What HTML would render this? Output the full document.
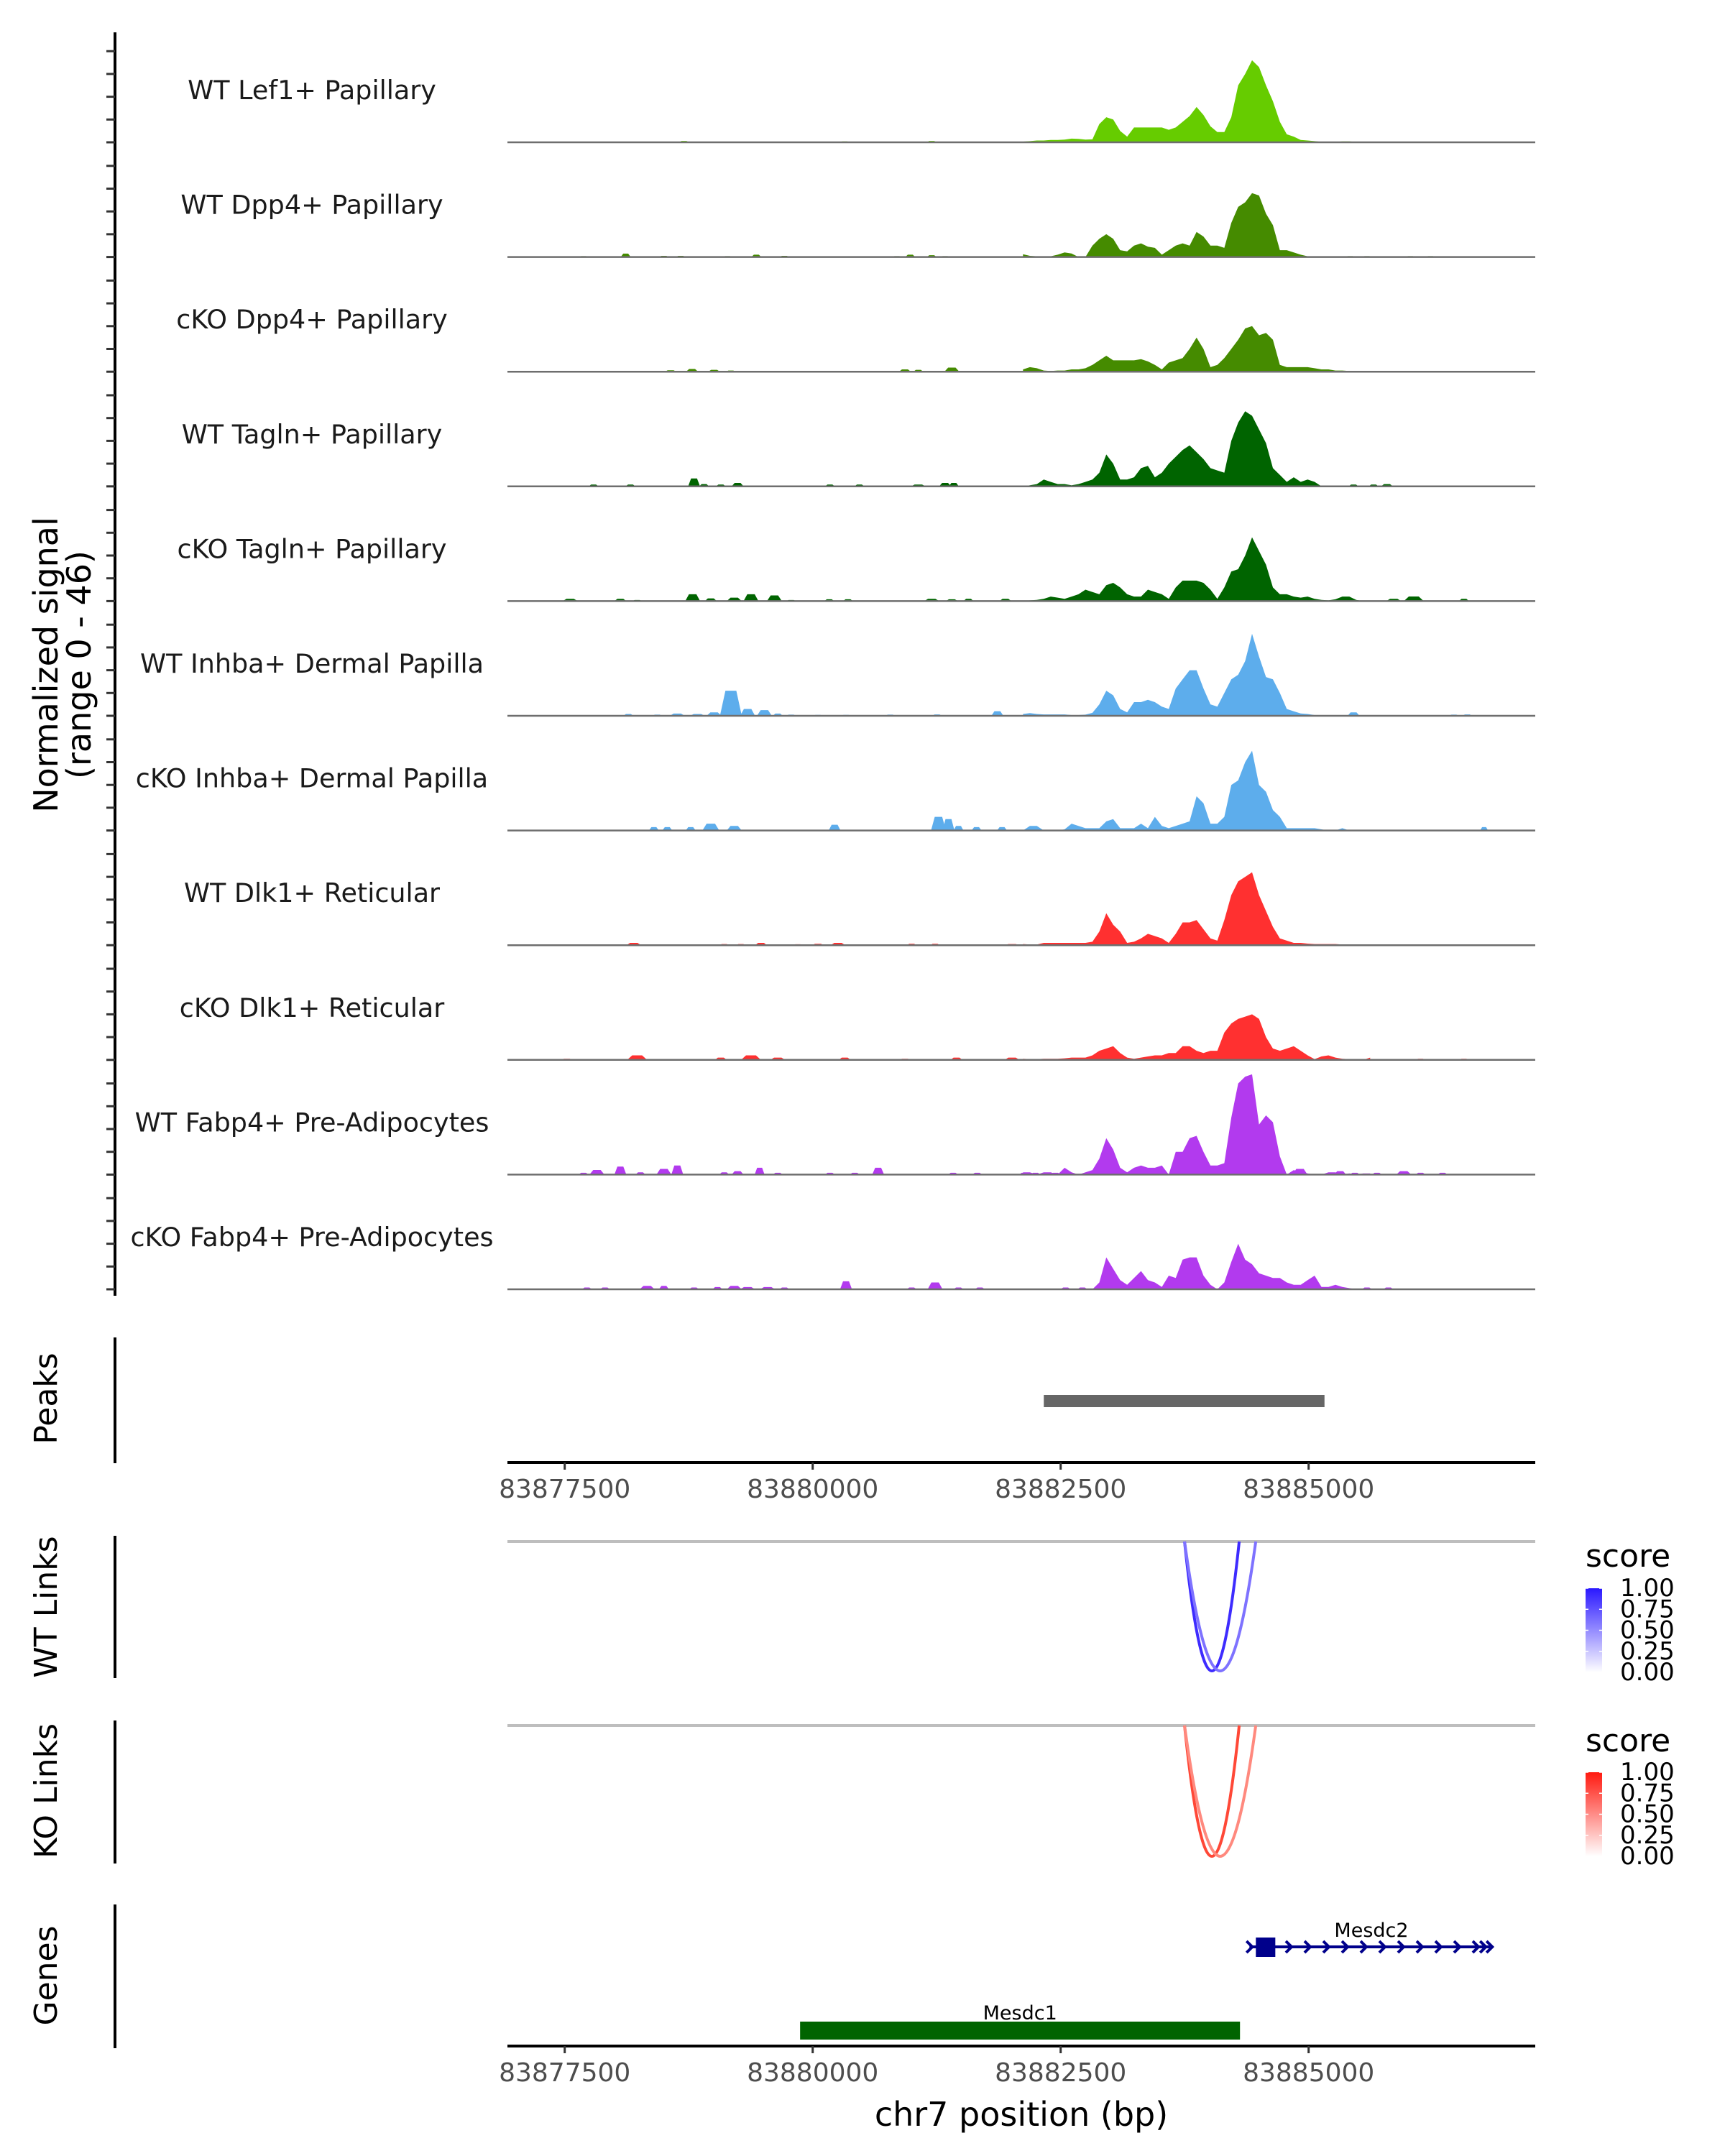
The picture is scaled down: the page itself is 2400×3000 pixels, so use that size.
<!DOCTYPE html>
<html><head><meta charset="utf-8"><style>
html,body{margin:0;padding:0;background:#fff;}
svg{display:block;font-family:"DejaVu Sans","Liberation Sans",sans-serif;}
</style></head><body>
<svg id="chart" width="2400" height="3000" viewBox="0 0 2400 3000" xmlns="http://www.w3.org/2000/svg">
<g id="tracks"></g>
<g id="annot"></g>
</svg>
<script>
// ---------- data ----------
const trackNames = ["WT Lef1+ Papillary","WT Dpp4+ Papillary","cKO Dpp4+ Papillary","WT Tagln+ Papillary","cKO Tagln+ Papillary","WT Inhba+ Dermal Papilla","cKO Inhba+ Dermal Papilla","WT Dlk1+ Reticular","cKO Dlk1+ Reticular","WT Fabp4+ Pre-Adipocytes","cKO Fabp4+ Pre-Adipocytes"];
const trackColors = ["#66CC00","#458B00","#458B00","#006400","#006400","#5DADEC","#5DADEC","#FF3030","#FF3030","#B23AEE","#B23AEE"];
const gridStart = 83882120;
const gridStep = 70;
const lef1Wt = [0.3,0.5,0.8,0.8,1,1,1.2,1.6,1.5,1.2,1.3,8,11,10,5,2.5,6.5,6.5,6.5,6.5,6.5,5.5,6.5,9,11.5,15.5,12,7,4.5,4.5,11,25,30,36,33,25,18,9,3.5,2.5,1,0.8,0.5,0.2,0.2,0.2,0.4,0.4,0.2,0,0];
const dpp4Wt = [1.2,0.5,0.3,0.3,0.3,1,2,1.5,0,0,5,8,10,8,3,2.5,5,6,4.5,4,1,3,5,6,5,11,9,5,5,4,15,22,24,28,27,19,14,3,3,2,1,0.3,0,0,0,0,0,0,0,0,0];
const dpp4Ko = [1,2,1.5,0.5,0.3,0.5,0.5,1,1,1.5,3,5,7,5,5,5,5,5.5,4.5,3,1,4,5,6,10,15,10,2,3,6,10,14,19,20,16,17,14,3,2,2,2,2,1.5,1,1,0.5,0.5,0.3,0,0,0];
const taglnWt = [0,0.5,1,3,2,1,1,0.5,1,2,3,6,14,10,3,3,4,8,9,4,6,10,13,16,18,15,12,8,7,6,20,28,33,31,25,19,8,5,2,4,2,3,2,0,0,0,0,0,0,0,0];
const taglnKo = [0,0.3,0.5,1,2,1.5,1,2,3,5,4,3,7,8,6,3,2,2,5,4,3,1,6,9,9,9,8,5,1,6,13,14,20,28,22,16,6,3,3,2,1.5,2,1,0.5,0.3,0.8,2,2,0.5,0,0];
const inhbaWt = [0.8,1.2,0.8,0.6,0.6,0.6,0.6,0.3,0.3,0.5,1.3,5,11,9,3,1.5,6,6,7,6,4,3,12,16,20,20,12,5,4,10,16,18,24,36,26,17,16,10,3,2,1,0.8,0.3,0.3,0,0,0,0,0,0,0];
const inhbaKo = [0,2,2,0,0,0,0.5,3,2,1,1,1,4,5,1,1,1,3,1,6,2,1,2,3,4,15,12,3,3,6,20,22,30,35,20,17,9,6,1,1,1,1,1,0.5,0,0,1,0,0,0,0];
const dlk1Wt = [0.5,0.3,0.3,1,1,1,1,1,1,1,1.5,6,14,9,6,1,1.5,3,5,4,3,1,5,10,10,11,7,3,2,11,22,28,30,32,22,15,8,3,2,1,1,0.7,0.5,0.5,0.5,0.5,0.3,0,0,0,0];
const dlk1Ko = [0.5,0.3,0.3,0.5,0.5,0.5,0.7,1,1,1,2,4,5,6,3,1,0.5,1,1.5,2,2,3,3,6,6,4,3,4,4,12,16,18,19,20,18,10,5,4,5,6,4,2,0.3,1.5,2,1,0.5,0.3,0.3,0,1];
const fabp4Wt = [1,1,0,1,1,0,3,1,0,1,2,7,16,11,3,1,3,4,3,3,4,0,10,10,16,17,10,4,4,5,25,40,43,44,22,26,23,8,0,2,1,0.5,0,0,1,1,0,0.5,0,0.5,0.5];
const fabp4Ko = [0,0,0,0,0,0,0,0,0,0,0,3,14,9,4,2,5,8,4,3,1,6,5,13,14,14,6,2,0,3,12,20,13,11,7,6,5,5,3,2,2,4,6,1,1,2,1,0.5,0,0,0];
// background blips: [position bp, height, width bp]
const lef1WtBlips = [[83877420,0.3,100],[83878703,0.6,100],[83880323,0.4,100],[83881200,0.6,100],[83885858,0.3,100],[83886465,0.3,100]];
const dpp4WtBlips = [[83877690,0.4,100],[83878115,1.5,100],[83878500,0.5,100],[83878669,0.5,100],[83879141,0.4,100],[83879432,1,100],[83879715,0.5,100],[83880849,0.4,100],[83880984,1,100],[83881200,0.8,100],[83881335,0.4,100],[83885419,0.4,100],[83885588,0.4,100],[83886026,0.4,100],[83886229,0.4,100]];
const dpp4KoBlips = [[83877454,0.2,100],[83877791,0.3,100],[83878568,0.6,120],[83878784,1.2,120],[83879006,0.8,120],[83879175,0.5,100],[83879445,0.3,100],[83880323,0.3,100],[83880694,0.3,100],[83880930,1,120],[83881065,0.8,100],[83881403,1.8,150],[83881740,0.2,100],[83885993,0.2,100],[83886735,0.2,100]];
const taglnWtBlips = [[83877386,0.3,40],[83877791,0.8,100],[83878163,0.8,100],[83878804,3.5,120],[83878905,1,100],[83879074,0.8,100],[83879243,1.5,120],[83880174,0.8,100],[83880471,0.8,100],[83881065,0.8,150],[83881335,1.5,120],[83881423,1.5,100],[83885453,0.8,100],[83885655,0.8,100],[83885790,1,120]];
const taglnKoBlips = [[83877555,1,150],[83877825,0.3,100],[83878061,1,120],[83878230,0.5,100],[83878790,3,150],[83878973,1.2,120],[83879209,1.5,150],[83879378,3,150],[83879614,2.5,150],[83879783,0.5,100],[83880167,0.8,100],[83880356,0.8,100],[83880998,0.3,100],[83881200,1,150],[83881403,0.8,120],[83881571,1,100],[83881943,1,120],[83885858,1,150],[83886060,2,200],[83886364,0.3,100],[83886566,1,100],[83886735,0.3,100]];
const inhbaWtBlips = [[83877791,0.3,100],[83878142,0.8,100],[83878433,0.5,100],[83878635,1,150],[83878838,0.8,150],[83879006,1.5,150],[83879175,11,220],[83879344,3,150],[83879513,2.5,150],[83879648,1,100],[83879783,0.5,100],[83880053,0.4,100],[83880336,0.4,100],[83880782,0.5,100],[83881254,0.6,100],[83881403,0.3,100],[83881706,0.3,100],[83881862,2,120],[83885453,1.5,120],[83886094,0.3,100],[83886465,0.5,100],[83886600,0.6,100]];
const inhbaKoBlips = [[83878399,1.5,100],[83878534,1.5,100],[83878770,1.5,100],[83878973,3,170],[83879209,2,150],[83880221,2.5,120],[83881268,6,150],[83881369,5,120],[83881470,2,100],[83881652,1.5,100],[83881909,1.5,100],[83886769,1.5,80]];
const dlk1WtBlips = [[83877488,0.3,100],[83878196,1,150],[83879108,0.5,100],[83879276,0.5,100],[83879479,1,120],[83879850,0.4,100],[83880053,0.6,120],[83880255,1,150],[83880998,0.6,100],[83881234,0.6,100],[83881605,0.3,100],[83882010,0.5,150],[83886533,0.3,100],[83886735,0.3,100]];
const dlk1KoBlips = [[83877521,0.5,120],[83877825,0.3,100],[83878230,2,200],[83878669,0.3,100],[83879074,1,120],[83879378,2,200],[83879648,1,150],[83880323,1,120],[83880930,0.5,120],[83881133,0.3,100],[83881450,1,120],[83882010,1,150],[83886128,0.5,100],[83886330,0.3,100],[83886566,0.5,100]];
const fabp4WtBlips = [[83877690,0.8,100],[83877825,2,150],[83878061,3.5,120],[83878264,1,100],[83878500,2.5,150],[83878635,4,120],[83879108,1,100],[83879243,1.5,120],[83879465,3,100],[83879648,0.8,100],[83880174,0.8,100],[83880424,0.8,100],[83880660,3,120],[83881416,0.8,100],[83881659,0.8,100],[83882132,0.8,100],[83882246,0.8,100],[83882449,0.8,100],[83884913,2.5,150],[83885318,1.5,120],[83885466,0.8,100],[83885689,0.8,100],[83885959,1.5,150],[83886128,0.8,100],[83886350,0.8,100]];
const fabp4KoBlips = [[83877724,0.8,100],[83877906,0.8,100],[83878331,1.5,150],[83878500,1.5,100],[83878804,0.8,100],[83879040,1,100],[83879209,1.5,150],[83879344,1,150],[83879546,1,150],[83879715,0.8,100],[83880336,3.5,120],[83880998,0.8,100],[83881234,3,150],[83881470,0.8,100],[83881686,0.8,100],[83882550,0.8,100],[83882719,0.8,100],[83885588,0.8,100],[83885804,0.8,100]];
const trackValues = [lef1Wt,dpp4Wt,dpp4Ko,taglnWt,taglnKo,inhbaWt,inhbaKo,dlk1Wt,dlk1Ko,fabp4Wt,fabp4Ko];
const trackBlips = [lef1WtBlips,dpp4WtBlips,dpp4KoBlips,taglnWtBlips,taglnKoBlips,inhbaWtBlips,inhbaKoBlips,dlk1WtBlips,dlk1KoBlips,fabp4WtBlips,fabp4KoBlips];
const xTicks = [83877500,83880000,83882500,83885000];
const xTickLabels = ["83877500","83880000","83882500","83885000"];
const peakRanges = [[83882330,83885160]];
const wtLinks = [[83883749,83884300,0.9],[83883749,83884467,0.6]];
const koLinks = [[83883749,83884300,0.85],[83883749,83884467,0.55]];
const legendTicks = ["1.00","0.75","0.50","0.25","0.00"];
const mesdc1 = [83879873,83884308];
const mesdc2 = [83884403,83886830];
const mesdc2Exon = [83884468,83884664];

// ---------- scales ----------
const NS="http://www.w3.org/2000/svg";
const X0=706, X1=2136;
function xs(p){return 785.7+(p-83877500)*0.138;}
const UNIT=3.17;
function base(i){return 198+159.6*i;}
function mk(tag,attrs,parent,text){const e=document.createElementNS(NS,tag);for(const k in attrs)e.setAttribute(k,attrs[k]);if(text!==undefined)e.textContent=text;parent.appendChild(e);return e;}
const tracks=document.getElementById('tracks');
const annot=document.getElementById('annot');

// left axis
const ax=mk('line',{x1:160,y1:45,x2:160,y2:1803,stroke:'#000','stroke-width':4},tracks);


for(let i=0;i<trackNames.length;i++){
  for(let t=0;t<5;t++){
    const y=base(i)-t*10*UNIT;
    const tk=mk('line',{x1:148,y1:y,x2:160,y2:y,stroke:'#333','stroke-width':3},tracks);
    
    
  }
}
const yt=mk('text',{x:0,y:0,'font-size':46,'text-anchor':'middle',fill:'#000',transform:'translate(80,925) rotate(-90)'},tracks);


mk('tspan',{x:0,dy:0},yt,'Normalized signal');
mk('tspan',{x:0,dy:46},yt,'(range 0 - 46)');

for(let i=0;i<trackNames.length;i++){
  const b=base(i);
  const g=mk('g',{},tracks);
  
  
  const lab=mk('text',{x:434,y:b-60,'font-size':36.5,'text-anchor':'middle',fill:'#1a1a1a'},g,trackNames[i]);
  
  
  const vals=trackValues[i];
  let d='M'+xs(gridStart).toFixed(1)+','+b;
  vals.forEach((v,k)=>{d+=' L'+xs(gridStart+k*gridStep).toFixed(1)+','+(b-v*UNIT).toFixed(1);});
  d+=' L'+xs(gridStart+(vals.length-1)*gridStep).toFixed(1)+','+b+' Z';
  const area=mk('path',{d:d,fill:trackColors[i]},g);
  
  
  trackBlips[i].forEach(bl=>{
    const [p,h,w]=bl;
    const dd='M'+xs(p-w/2)+','+b+' L'+xs(p-w/4)+','+(b-h*UNIT)+' L'+xs(p+w/4)+','+(b-h*UNIT)+' L'+xs(p+w/2)+','+b+' Z';
    const bp=mk('path',{d:dd,fill:trackColors[i]},g);
    
    
  });
  const bl=mk('line',{x1:X0,y1:b,x2:X1,y2:b,stroke:'#6e6e6e','stroke-width':2.5},g);
  
  
}

// panel side axes + labels
const panels=[["Peaks",1861,2036,1946],["WT Links",2137,2335,2236],["KO Links",2394,2593,2492],["Genes",2650,2850,2749]];
panels.forEach(p=>{
  const l=mk('line',{x1:160,y1:p[1],x2:160,y2:p[2],stroke:'#000','stroke-width':4},annot);
  
  
  const t=mk('text',{x:0,y:0,'font-size':44,'text-anchor':'middle',fill:'#000',transform:'translate(79,'+p[3]+') rotate(-90)'},annot,p[0]);
  
  
});

// peaks
peakRanges.forEach(r=>{
  const pk=mk('rect',{x:xs(r[0]),y:1941,width:xs(r[1])-xs(r[0]),height:17,fill:'#666'},annot);
  
  
});

// x axes
function xAxis(y,name){
  const g=mk('g',{},annot);
  
  
  mk('line',{x1:X0,y1:y,x2:X1,y2:y,stroke:'#000','stroke-width':4},g);
  xTicks.forEach((t,k)=>{
    mk('line',{x1:xs(t),y1:y,x2:xs(t),y2:y+10,stroke:'#333','stroke-width':3},g);
    const tl=mk('text',{x:xs(t),y:y+49,'font-size':36,'text-anchor':'middle',fill:'#4d4d4d'},g,xTickLabels[k]);
    
    
  });
}
xAxis(2035,'peaks-x-axis');
xAxis(2847,'genes-x-axis');
const xt=mk('text',{x:1421,y:2958,'font-size':46,'text-anchor':'middle',fill:'#000'},annot,'chr7 position (bp)');



// links
function scoreColor(s,r,g,b){const m=c=>Math.round(255-(255-c)*s);return 'rgb('+m(r)+','+m(g)+','+m(b)+')';}
function linkPanel(top,bottom,links,rgb,name){
  const g=mk('g',{},annot);
  
  
  mk('line',{x1:X0,y1:top,x2:X1,y2:top,stroke:'#bebebe','stroke-width':4},g);
  links.forEach(l=>{
    const a=xs(l[0]),b=xs(l[1]);
    const cx=(a+b)/2, cy=top+2*(bottom-top);
    const arc=mk('path',{d:'M'+a+','+top+' Q'+cx+','+cy+' '+b+','+top,fill:'none',stroke:scoreColor(l[2],rgb[0],rgb[1],rgb[2]),'stroke-width':4},g);
    
    
  });
}
linkPanel(2145,2325,wtLinks,[40,20,255],'wt-links-panel');
linkPanel(2401,2583,koLinks,[255,40,20],'ko-links-panel');

// legends
const defs=mk('defs',{},annot);
const gb=mk('linearGradient',{id:'gBlue',x1:0,y1:0,x2:0,y2:1},defs);
mk('stop',{offset:0,'stop-color':'#2a18ff'},gb);mk('stop',{offset:1,'stop-color':'#ffffff'},gb);
const gr=mk('linearGradient',{id:'gRed',x1:0,y1:0,x2:0,y2:1},defs);
mk('stop',{offset:0,'stop-color':'#ff1a10'},gr);mk('stop',{offset:1,'stop-color':'#ffffff'},gr);
function legend(titleY,barTop,grad,name){
  const g=mk('g',{},annot);
  
  
  mk('text',{x:2206,y:titleY,'font-size':44,fill:'#000'},g,'score');
  mk('rect',{x:2206,y:barTop,width:23,height:117,fill:'url(#'+grad+')'},g);
  legendTicks.forEach((t,k)=>{
    const yy=barTop+k*117/4;
    mk('line',{x1:2206,y1:yy,x2:2210,y2:yy,stroke:'#fff','stroke-width':1.5},g);
    mk('line',{x1:2225,y1:yy,x2:2229,y2:yy,stroke:'#fff','stroke-width':1.5},g);
    mk('text',{x:2254,y:yy+11,'font-size':34,fill:'#000'},g,t);
  });
}
legend(2180,2210,'gBlue','wt-score-legend');
legend(2437,2466,'gRed','ko-score-legend');

// genes
const m1=mk('rect',{x:xs(mesdc1[0]),y:2813,width:xs(mesdc1[1])-xs(mesdc1[0]),height:25,fill:'#006400'},annot);


const m1l=mk('text',{x:(xs(mesdc1[0])+xs(mesdc1[1]))/2,y:2810,'font-size':27,'text-anchor':'middle',fill:'#000'},annot,'Mesdc1');


const g2=mk('g',{},annot);


const a2=xs(mesdc2[0]),b2=xs(mesdc2[1]);
mk('line',{x1:a2,y1:2709,x2:b2,y2:2709,stroke:'#00008B','stroke-width':4},g2);
mk('rect',{x:xs(mesdc2Exon[0]),y:2696,width:xs(mesdc2Exon[1])-xs(mesdc2Exon[0]),height:27,fill:'#00008B'},g2);
let chev='M'+(a2-4)+',2701 L'+(a2+4)+',2709 L'+(a2-4)+',2717';
for(let x=1794;x<b2-10;x+=26){chev+=' M'+(x-5)+',2701 L'+(x+3)+',2709 L'+(x-5)+',2717';}
chev+=' M'+(b2-14)+',2701 L'+(b2-6)+',2709 L'+(b2-14)+',2717 M'+(b2-5)+',2701 L'+(b2+3)+',2709 L'+(b2-5)+',2717';
mk('path',{d:chev,fill:'none',stroke:'#00008B','stroke-width':4},g2);
const m2l=mk('text',{x:1908,y:2695,'font-size':27,'text-anchor':'middle',fill:'#000'},annot,'Mesdc2');


</script>
</body></html>
